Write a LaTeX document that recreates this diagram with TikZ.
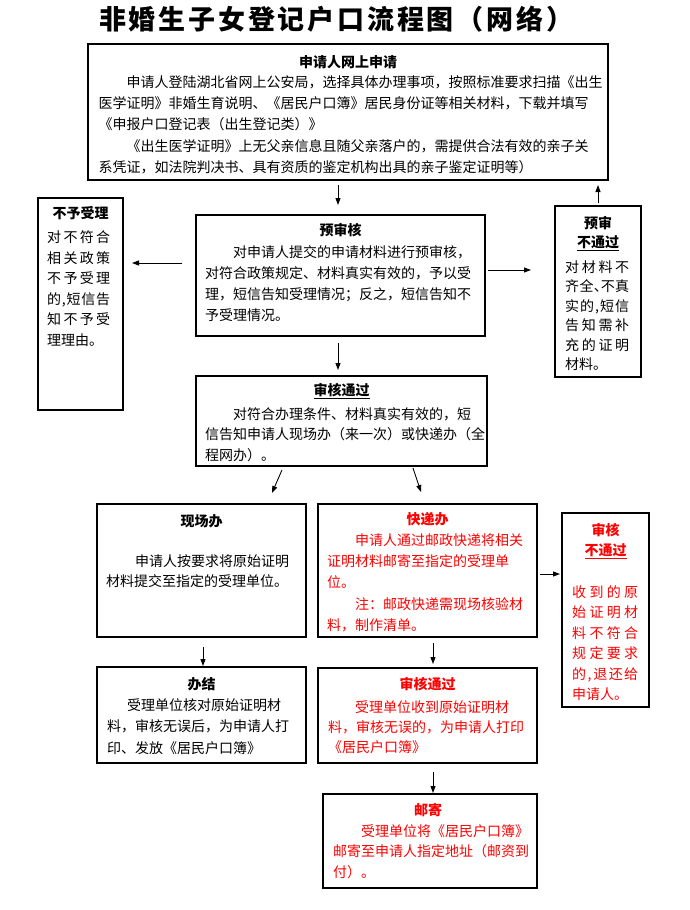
\documentclass[tikz,border=0pt]{standalone}
\usepackage{fontspec}
\setmainfont{Noto Sans CJK SC}
\usetikzlibrary{arrows.meta}

\newcommand{\tp}{\rule{0pt}{15pt}}
\newcommand{\spline}[2]{{\spaceskip=0pt plus 1fil\makebox[#1][s]{#2}}}

\begin{document}
\begin{tikzpicture}[x=1pt,y=-1pt]
    \tikzstyle{box}=[draw, line width=1.2pt, inner sep=0pt, outer sep=0pt]
    \tikzstyle{head}=[inner sep=0pt, anchor=north, align=center, font=\fontsize{14}{21}\selectfont\bfseries]
    \tikzstyle{body}=[inner sep=0pt, anchor=north west, align=left, font=\fontsize{14}{21}\selectfont]
    \tikzstyle{arr}=[-{Triangle[length=7pt,width=5pt]}, line width=0.9pt]
    \useasboundingbox (0,0) rectangle (689,910);

    \node[inner sep=0pt, anchor=base west, font=\fontsize{27}{27}\selectfont\bfseries] (title) at (99,29)
        {\spline{474pt}{非 婚 生 子 女 登 记 户 口 流 程 图 （ 网 络 ）}};

    % boxes
    \node[box, minimum width=520pt, minimum height=136pt] (apply) at (348,112) {};
    \node[box, minimum width=289pt, minimum height=121pt] (pre) at (340.5,275.5) {};
    \node[box, minimum width=85pt, minimum height=212pt] (reject) at (80.5,304) {};
    \node[box, minimum width=86pt, minimum height=171pt] (nopass) at (598,291.5) {};
    \node[box, minimum width=291pt, minimum height=90pt] (pass) at (341.5,421) {};
    \node[box, minimum width=209pt, minimum height=133pt] (onsite) at (201.5,570.5) {};
    \node[box, minimum width=219pt, minimum height=133pt] (express) at (427.5,570.5) {};
    \node[box, minimum width=87pt, minimum height=194pt] (fail) at (605.5,610) {};
    \node[box, minimum width=209pt, minimum height=96pt] (done) at (201.5,715) {};
    \node[box, minimum width=219pt, minimum height=95pt] (pass2) at (427.5,715.5) {};
    \node[box, minimum width=214pt, minimum height=94pt] (mail) at (430,841) {};

    % texts
    \node[head] (apply-h) at (348,52.2) {\tp 申请人网上申请};
    \node[body, font=\fontsize{14}{21.25}\selectfont] (apply-b) at (98.5,72.2)
        {\tp\hspace*{2em}申请人登陆湖北省网上公安局，选择具体办理事项，按照标准要求扫描《出生\\
        医学证明》非婚生育说明、《居民户口簿》居民身份证等相关材料，下载并填写\\
        《申报户口登记表（出生登记类）》\\
        \hspace*{2em}《出生医学证明》上无父亲信息且随父亲落户的，需提供合法有效的亲子关\\
        系凭证，如法院判决书、具有资质的鉴定机构出具的亲子鉴定证明等）};

    \node[head] (pre-h) at (340.5,220.2) {\tp 预审核};
    \node[body] (pre-b) at (205,242.2)
        {\tp\hspace*{2em}对申请人提交的申请材料进行预审核，\\
        对符合政策规定、材料真实有效的，予以受\\
        理，短信告知受理情况；反之，短信告知不\\
        予受理情况。};

    \node[head] (reject-h) at (80.5,203.2) {\tp 不予受理};
    \node[body, font=\fontsize{14}{20.6}\selectfont] (reject-b) at (47,227.2)
        {\tp\spline{63pt}{对 不 符 合}\\
        \spline{63pt}{相 关 政 策}\\
        \spline{63pt}{不 予 受 理}\\
        \spline{63pt}{的 , 短 信 告}\\
        \spline{63pt}{知 不 予 受}\\
        理理由。};

    \node[head, font=\fontsize{14}{19.4}\selectfont\bfseries] (nopass-h) at (598,213.2) {\tp 预审\\\underline{不通过}};
    \node[body, font=\fontsize{14}{19.4}\selectfont] (nopass-b) at (565,257.2)
        {\tp\spline{64pt}{对 材 料 不}\\
        \spline{64pt}{齐 全 、\kern-.5em 不 真}\\
        \spline{64pt}{实 的 , 短 信}\\
        \spline{64pt}{告 知 需 补}\\
        \spline{64pt}{充 的 证 明}\\
        材料。};

    \node[head] (pass-h) at (341.5,380.2) {\tp\underline{审核通过}};
    \node[body, font=\fontsize{14}{20.5}\selectfont] (pass-b) at (205,404.2)
        {\tp\hspace*{2em}对符合办理条件、材料真实有效的，短\\
        信告知申请人现场办（来一次）或快递办（全\\
        程网办）。};

    \node[head] (onsite-h) at (201.5,511.2) {\tp 现场办};
    \node[body, font=\fontsize{14}{20}\selectfont] (onsite-b) at (106,551.2)
        {\tp\hspace*{29pt}申请人按要求将原始证明\\
        材料提交至指定的受理单位。};

    \node[head, red] (express-h) at (427.5,509.2) {\tp 快递办};
    \node[body, red, font=\fontsize{14}{21.25}\selectfont] (express-b) at (327,530.2)
        {\tp\hspace*{2em}申请人通过邮政快递将相关\\
        证明材料邮寄至指定的受理单\\
        位。\\
        \hspace*{2em}注：邮政快递需现场核验材\\
        料，制作清单。};

    \node[head, red, font=\fontsize{14}{20}\selectfont\bfseries] (fail-h) at (605.5,520.2) {\tp 审核\\\underline{不通过}};
    \node[body, red, font=\fontsize{14}{20.4}\selectfont] (fail-b) at (572,582.2)
        {\tp\spline{66pt}{收 到 的 原}\\
        \spline{66pt}{始 证 明 材}\\
        \spline{66pt}{料 不 符 合}\\
        \spline{66pt}{规 定 要 求}\\
        \spline{66pt}{的 , 退 还 给}\\
        申请人。};

    \node[head] (done-h) at (201.5,674.2) {\tp 办结};
    \node[body, font=\fontsize{14}{21.5}\selectfont] (done-b) at (107,695.2)
        {\tp\hspace*{20pt}受理单位核对原始证明材\\
        料，审核无误后，为申请人打\\
        印、发放《居民户口簿》};

    \node[head, red] (pass2-h) at (427.5,674.2) {\tp 审核通过};
    \node[body, red, font=\fontsize{14}{20}\selectfont] (pass2-b) at (328,697.2)
        {\tp\hspace*{27pt}受理单位收到原始证明材\\
        料，审核无误的，为申请人打印\\
        《居民户口簿》};

    \node[head, red] (mail-h) at (428,800.2) {\tp 邮寄};
    \node[body, red, font=\fontsize{14}{20.5}\selectfont] (mail-b) at (333,821.2)
        {\tp\hspace*{2em}受理单位将《居民户口簿》\\
        邮寄至申请人指定地址（邮资到\\
        付）。};

    % arrows
    \draw[arr, shorten <=5pt, shorten >=10pt] ([xshift=-10pt]apply.south) -- ([xshift=-2.5pt]pre.north);
    \draw[arr, shorten <=3pt, shorten >=5pt] (nopass.north) -- (nopass.north |- apply.south);
    \draw[arr, shorten <=14pt, shorten >=9pt] ([yshift=12.5pt]pre.west) -- ([yshift=41pt]reject.east);
    \draw[arr, shorten <=3pt, shorten >=24pt] ([yshift=5.5pt]pre.east) -- ([yshift=21.5pt]nopass.west);
    \draw[arr, shorten <=7pt, shorten >=6pt] ([xshift=-2.5pt]pre.south) -- ([xshift=-3.5pt]pass.north);
    \draw[arr, shorten <=4.4pt, shorten >=12pt] ([xshift=-57.8pt]pass.south) -- ([xshift=65.7pt]onsite.north);
    \draw[arr, shorten <=2.1pt, shorten >=12.6pt] ([xshift=70.8pt]pass.south) -- ([xshift=-2.5pt]express.north);
    \draw[arr, shorten <=3pt, shorten >=2pt] ([yshift=-3.5pt]express.east) -- ([yshift=36pt]fail.west);
    \draw[arr, shorten <=10pt, shorten >=1pt] ([xshift=1.5pt]onsite.south) -- ([xshift=1.5pt]done.north);
    \draw[arr, shorten <=6pt, shorten >=4pt] ([xshift=5.5pt]express.south) -- ([xshift=5.5pt]pass2.north);
    \draw[arr, shorten <=9pt, shorten >=1pt] ([xshift=5.5pt]pass2.south) -- ([xshift=3pt]mail.north);
\end{tikzpicture}
\end{document}
